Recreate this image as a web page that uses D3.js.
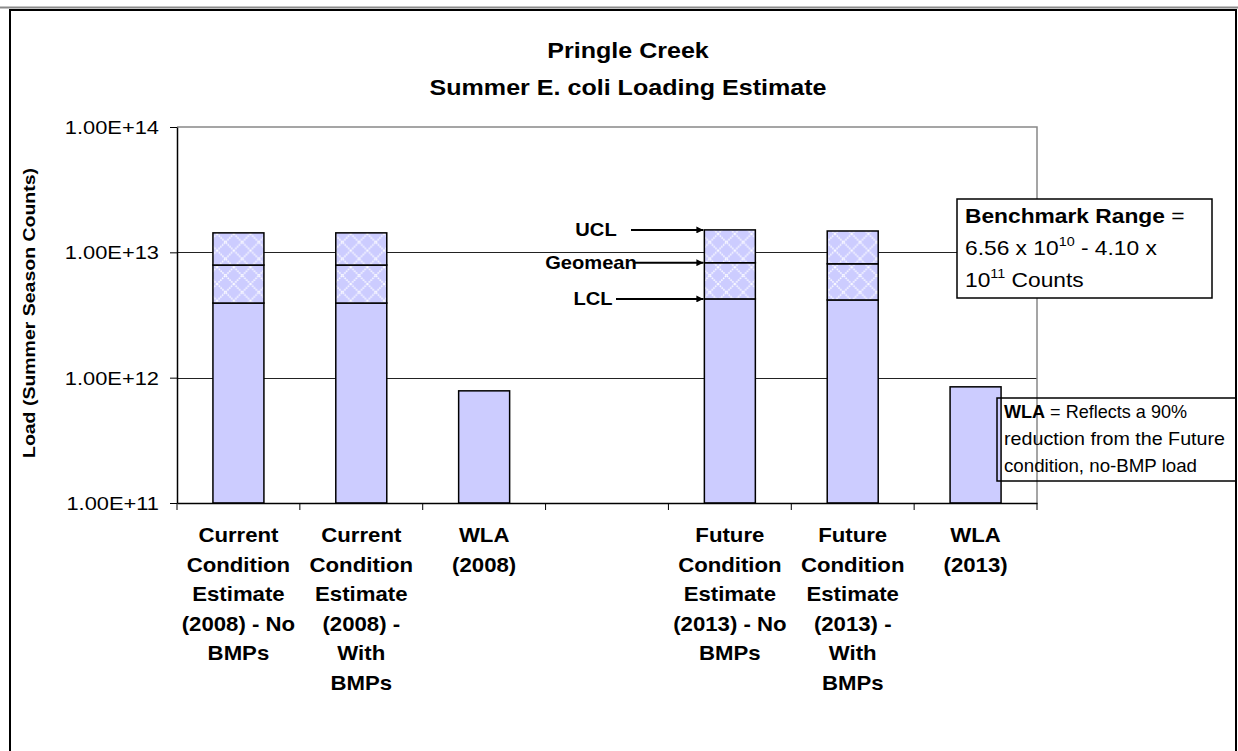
<!DOCTYPE html>
<html><head><meta charset="utf-8">
<script src="https://cdn.jsdelivr.net/npm/d3@7"></script>
<style>
html,body{margin:0;padding:0;background:#fff;}
svg{display:block;}
text{font-family:"Liberation Sans",Arial,Helvetica,sans-serif;fill:#000;}
</style></head>
<body>
<svg id="chart" width="1238" height="751"></svg>
<script>
// ---------------- DATA ----------------
const categories = [
  "Current\nCondition\nEstimate\n(2008) - No\nBMPs",
  "Current\nCondition\nEstimate\n(2008) -\nWith\nBMPs",
  "WLA\n(2008)",
  "",
  "Future\nCondition\nEstimate\n(2013) - No\nBMPs",
  "Future\nCondition\nEstimate\n(2013) -\nWith\nBMPs",
  "WLA\n(2013)"
];
const lclValues     = [3.94e12, 3.94e12, null, null, 4.25e12, 4.17e12, null];
const geomeanValues = [7.92e12, 7.92e12, null, null, 8.26e12, 8.10e12, null];
const uclValues     = [1.43e13, 1.43e13, null, null, 1.51e13, 1.48e13, null];
const wlaValues     = [null, null, 7.85e11, null, null, null, 8.45e11];
const yTickValues = [1e11, 1e12, 1e13, 1e14];
const yTickLabels = ["1.00E+11", "1.00E+12", "1.00E+13", "1.00E+14"];
const titleLines = ["Pringle Creek", "Summer E. coli Loading Estimate"];
const yAxisTitle = "Load (Summer Season Counts)";

// ---------------- SETUP ----------------
const SX = 1.15; // slight horizontal text stretch seen in the reference
const svg = d3.select("#chart");
const W = 1238, H = 751;
const plot = {left: 177, right: 1037, top: 127, bottom: 503};

// top header rule + outer frame
svg.append("line").attr("x1", 0).attr("x2", W).attr("y1", 7.5).attr("y2", 7.5)
  .attr("stroke", "#8a8a8a").attr("stroke-width", 2);
svg.append("rect").attr("x", 10).attr("y", 10).attr("width", 1226).attr("height", 760)
  .attr("fill", "#fff").attr("stroke", "#000").attr("stroke-width", 2);

// pattern
const defs = svg.append("defs");
const P = 16.7;
const pat = defs.append("pattern").attr("id", "diamond")
  .attr("patternUnits", "userSpaceOnUse").attr("width", P).attr("height", P);
pat.append("rect").attr("width", P).attr("height", P).attr("fill", "#ccccff");
pat.append("path").attr("d", `M0,0L${P},${P}M${P},0L0,${P}`)
  .attr("stroke", "#ffffff").attr("stroke-width", 1.5).attr("stroke-dasharray", "1.5,1")
  .attr("stroke-opacity", 0.95).attr("fill", "none");

const marker = defs.append("marker").attr("id", "arrow").attr("viewBox", "0 0 10 10")
  .attr("refX", 10).attr("refY", 5).attr("markerWidth", 9).attr("markerHeight", 7)
  .attr("markerUnits", "userSpaceOnUse").attr("orient", "auto");
marker.append("path").attr("d", "M0,0L10,5L0,10Z").attr("fill", "#000");

function stext(g, x, y, size, weight, anchor) {
  return g.append("text")
    .attr("transform", `translate(${x},${y}) scale(${SX},1)`)
    .attr("font-size", size).attr("font-weight", weight || "normal")
    .attr("text-anchor", anchor || "start");
}

// scales
const x = d3.scaleBand().domain(d3.range(categories.length))
  .range([plot.left, plot.right]).paddingInner(0.585).paddingOuter(0.2925);
const xb = d3.scaleBand().domain(d3.range(categories.length)).range([plot.left, plot.right]);
const y = d3.scaleLog().domain([1e11, 1e14]).range([plot.bottom, plot.top]);

// title
titleLines.forEach((t, i) => {
  stext(svg, 628, 58 + i * 37, 21.8, "bold", "middle").text(t);
});

// gridlines
svg.append("g").selectAll("line").data(yTickValues.slice(1, 3)).join("line")
  .attr("x1", plot.left).attr("x2", plot.right)
  .attr("y1", d => Math.round(y(d)) + 0.5).attr("y2", d => Math.round(y(d)) + 0.5)
  .attr("stroke", "#222").attr("stroke-width", 1);
// plot area border (top/right, gray)
svg.append("path")
  .attr("d", `M${plot.left},${y(1e14)}H${plot.right}V${plot.bottom}`)
  .attr("fill", "none").attr("stroke", "#888").attr("stroke-width", 1.5);

// bars
const g = svg.append("g");
categories.forEach((c, i) => {
  const bx = x(i), bw = x.bandwidth();
  if (lclValues[i] != null) {
    g.append("rect").attr("x", bx).attr("width", bw)
      .attr("y", y(lclValues[i])).attr("height", y(1e11) - y(lclValues[i]))
      .attr("fill", "#ccccff").attr("stroke", "#000").attr("stroke-width", 1.5);
    g.append("rect").attr("x", bx).attr("width", bw)
      .attr("y", y(geomeanValues[i])).attr("height", y(lclValues[i]) - y(geomeanValues[i]))
      .attr("fill", "url(#diamond)").attr("stroke", "#000").attr("stroke-width", 1.5);
    g.append("rect").attr("x", bx).attr("width", bw)
      .attr("y", y(uclValues[i])).attr("height", y(geomeanValues[i]) - y(uclValues[i]))
      .attr("fill", "url(#diamond)").attr("stroke", "#000").attr("stroke-width", 1.5);
  }
  if (wlaValues[i] != null) {
    g.append("rect").attr("x", bx).attr("width", bw)
      .attr("y", y(wlaValues[i])).attr("height", y(1e11) - y(wlaValues[i]))
      .attr("fill", "#ccccff").attr("stroke", "#000").attr("stroke-width", 1.5);
  }
});

// y axis
const yAxis = d3.axisLeft(y).tickValues(yTickValues)
  .tickFormat((d, i) => yTickLabels[i]).tickSize(7).tickSizeOuter(0);
const ya = svg.append("g").attr("transform", `translate(${plot.left},0)`).call(yAxis);
ya.select(".domain").attr("stroke", "#000").attr("stroke-width", 1.5);
ya.selectAll(".tick line").attr("stroke", "#000").attr("stroke-width", 1);
ya.selectAll(".tick text").attr("x", null).attr("dy", null)
  .attr("transform", `translate(-18,6.5) scale(${SX},1)`)
  .attr("font-size", 19).attr("font-family", null).attr("fill", "#000");

// x axis
const xAxis = d3.axisBottom(xb).tickValues([]).tickSizeOuter(0);
const xa = svg.append("g").attr("transform", `translate(0,${plot.bottom})`).call(xAxis);
xa.select(".domain").attr("stroke", "#000").attr("stroke-width", 1.5);
const bounds = categories.map((c, i) => xb(i)).concat([xb.range()[1]]);
xa.selectAll(".btick").data(bounds).join("line").attr("class", "btick")
  .attr("x1", d => d).attr("x2", d => d).attr("y1", 0).attr("y2", 7)
  .attr("stroke", "#000").attr("stroke-width", 1);

// x labels
categories.forEach((c, i) => {
  if (!c) return;
  const cx = xb(i) + xb.bandwidth() / 2;
  c.split("\n").forEach((line, j) => {
    stext(svg, cx, 542 + j * 29.6, 19.3, "bold", "middle").text(line);
  });
});

// y axis title
svg.append("text")
  .attr("transform", `translate(35,313) rotate(-90)`)
  .attr("text-anchor", "middle").attr("font-size", 17).attr("font-weight", "bold")
  .attr("textLength", 290).attr("lengthAdjust", "spacingAndGlyphs")
  .text(yAxisTitle);

// UCL / Geomean / LCL annotations (pointing to future no-BMP bar)
const ai = 4;
const ann = [
  {label: "UCL", v: uclValues[ai], tx: 596, x0: 631},
  {label: "Geomean", v: geomeanValues[ai], tx: 591, x0: 633},
  {label: "LCL", v: lclValues[ai], tx: 593, x0: 616}
];
ann.forEach(a => {
  const yy = y(a.v);
  stext(svg, a.tx, yy + 6.5, 17.5, "bold", "middle").text(a.label);
  svg.append("line").attr("x1", a.x0).attr("x2", x(ai) - 1).attr("y1", yy).attr("y2", yy)
    .attr("stroke", "#000").attr("stroke-width", 2).attr("marker-end", "url(#arrow)");
});

// Benchmark box
svg.append("rect").attr("x", 957).attr("y", 199).attr("width", 255).attr("height", 99)
  .attr("fill", "#fff").attr("stroke", "#000").attr("stroke-width", 1.5);
let t1 = stext(svg, 965, 223, 19.8, "normal");
t1.append("tspan").attr("font-weight", "bold").text("Benchmark Range");
t1.append("tspan").text(" =");
let t2 = stext(svg, 965, 255, 19.8, "normal");
t2.append("tspan").text("6.56 x 10");
t2.append("tspan").attr("font-size", 12.5).attr("dy", -9).text("10");
t2.append("tspan").attr("dy", 9).text(" - 4.10 x");
let t3 = stext(svg, 965, 287, 19.8, "normal");
t3.append("tspan").text("10");
t3.append("tspan").attr("font-size", 12.5).attr("dy", -9).text("11");
t3.append("tspan").attr("dy", 9).text(" Counts");

// WLA box
svg.append("rect").attr("x", 997).attr("y", 398).attr("width", 239).attr("height", 83)
  .attr("fill", "none").attr("stroke", "#000").attr("stroke-width", 1.5);
const w1 = svg.append("text").attr("x", 1004).attr("y", 418).attr("font-size", 18.5)
  .attr("textLength", 183).attr("lengthAdjust", "spacingAndGlyphs");
w1.append("tspan").attr("font-weight", "bold").text("WLA");
w1.append("tspan").text(" = Reflects a 90%");
svg.append("text").attr("x", 1004).attr("y", 445).attr("font-size", 18.5)
  .attr("textLength", 221).attr("lengthAdjust", "spacingAndGlyphs").text("reduction from the Future");
svg.append("text").attr("x", 1004).attr("y", 472).attr("font-size", 18.5)
  .attr("textLength", 193).attr("lengthAdjust", "spacingAndGlyphs").text("condition, no-BMP load");
</script>
</body></html>
